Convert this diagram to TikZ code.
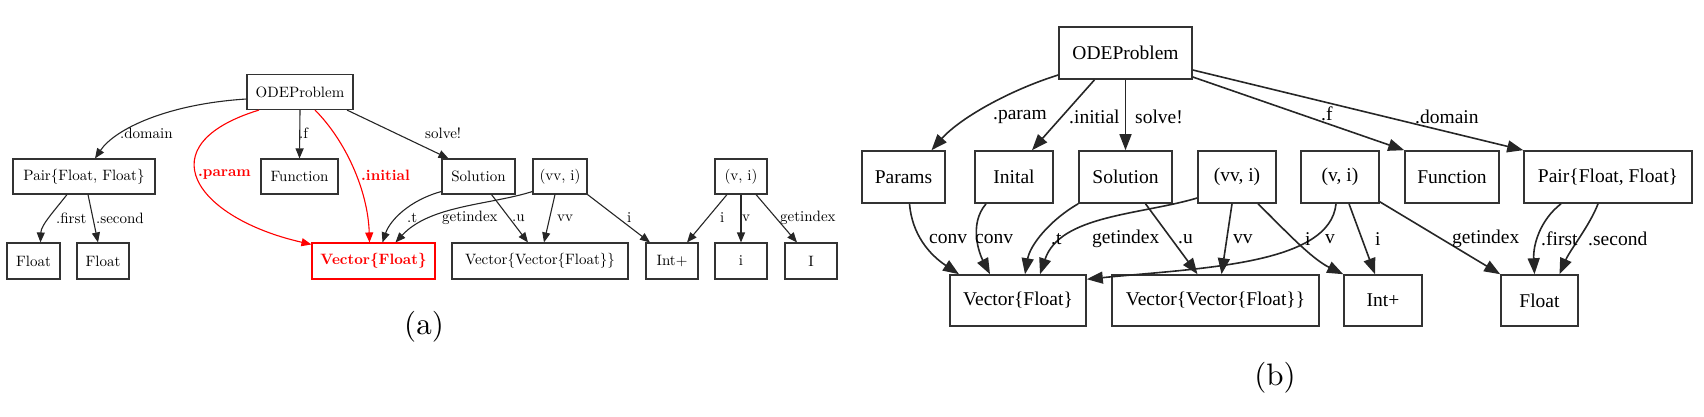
\documentclass[tikz,border=0pt]{standalone}
\usepackage{fontspec}
\newfontfamily\timesf{Liberation Serif}
\newfontfamily\lmten[BoldFont=lmroman10-bold.otf]{lmroman10-regular.otf}
\usetikzlibrary{arrows.meta}
\tikzset{
  abox/.style={draw=black!80, line width=1.1pt, minimum height=35pt, inner sep=0pt, font=\lmten\fontsize{15}{18}\selectfont},
  bbox/.style={draw=black!80, line width=1.6pt, minimum height=52pt, inner sep=0pt, font=\timesf\fontsize{19.5}{23}\selectfont},
  aedge/.style={line width=1.1pt, draw=black!85, -{Triangle[length=10pt,width=8pt]}},
  redge/.style={line width=1.1pt, draw=red, -{Triangle[length=10pt,width=8pt,fill=red]}},
  bedge/.style={line width=1.6pt, draw=black!85, -{Triangle[length=16pt,width=12pt]}},
  alab/.style={anchor=west, inner sep=0pt, font=\lmten\fontsize{15}{18}\selectfont},
  rlab/.style={anchor=west, inner sep=0pt, text=red, font=\lmten\fontsize{15}{18}\selectfont\bfseries},
  blab/.style={anchor=west, inner sep=0pt, font=\timesf\fontsize{19.5}{23}\selectfont},
  caption/.style={inner sep=0pt, font=\lmten\fontsize{31}{36}\selectfont}
}
\begin{document}
\begin{tikzpicture}[x=1pt,y=-1pt]
\path[use as bounding box] (0,0) rectangle (1704,416);
% ---------------- (a) ----------------
\node[abox, minimum width=106pt] (aODE) at (300,92) {ODEProblem};
\node[abox, minimum width=142pt] (aPair) at (84,176.5) {Pair\{Float, Float\}};
\node[abox, minimum width=77pt] (aFun) at (299.5,176.5) {Function};
\node[abox, minimum width=73pt] (aSol) at (478.5,176.5) {Solution};
\node[abox, minimum width=54pt] (aVVi) at (560,176.5) {(vv, i)};
\node[abox, minimum width=52pt] (aVi) at (741,176.5) {(v, i)};
\node[abox, minimum width=53pt, minimum height=36pt] (aF1) at (33.5,261) {Float};
\node[abox, minimum width=52pt, minimum height=36pt] (aF2) at (103,261) {Float};
\node[abox, minimum width=123pt, minimum height=36pt, draw=red, text=red, font=\lmten\fontsize{15}{18}\selectfont\bfseries] (aVF) at (373.5,261) {Vector\{Float\}};
\node[abox, minimum width=176pt, minimum height=36pt] (aVVF) at (540,261) {Vector\{Vector\{Float\}\}};
\node[abox, minimum width=52pt, minimum height=36pt] (aInt) at (672,261) {Int+};
\node[abox, minimum width=52pt, minimum height=36pt] (ai) at (741,261) {i};
\node[abox, minimum width=52pt, minimum height=36pt] (aI) at (811,261) {I};

\draw[aedge] ([yshift=-7pt]aODE.west) .. controls (167,104) and (115,129) .. ([xshift=11pt]aPair.north);
\draw[redge] ([xshift=-41pt]aODE.south) .. controls (145,145) and (195,218) .. ([yshift=-2pt]aVF.north west);
\draw[aedge] (aODE.south) -- (aFun.north);
\draw[redge] ([xshift=15pt]aODE.south) .. controls (345,140) and (368,190) .. ([xshift=-4pt]aVF.north);
\draw[aedge] ([xshift=47pt]aODE.south) -- ([xshift=-30pt]aSol.north);
\draw[aedge] ([xshift=-17pt]aPair.south) .. controls (55,210) and (41,225) .. ([xshift=7pt]aF1.north);
\draw[aedge] ([xshift=4pt]aPair.south) -- ([xshift=-5pt]aF2.north);
\draw[aedge] ([yshift=-15pt]aSol.west) .. controls (410,200) and (390,220) .. ([xshift=9pt]aVF.north);
\draw[aedge] ([yshift=-15pt]aVVi.west) .. controls (490,205) and (430,205) .. ([xshift=22pt]aVF.north);
\draw[aedge] ([xshift=13pt]aSol.south) -- ([xshift=-12pt]aVVF.north);
\draw[aedge] ([xshift=-5pt]aVVi.south) -- ([xshift=4pt]aVVF.north);
\draw[aedge] (aVVi.south east) -- ([xshift=-22pt]aInt.north);
\draw[aedge] ([xshift=-14pt]aVi.south) -- ([xshift=15pt]aInt.north);
\draw[aedge] (aVi.south) -- (ai.north);
\draw[aedge] ([xshift=15pt]aVi.south) -- ([xshift=-14pt]aI.north);

\node[alab] (la1) at (120,133) {.domain};
\node[rlab] (la2) at (198,175) {.param};
\node[alab] (la3) at (299,133) {.f};
\node[rlab] (la4) at (361,175) {.initial};
\node[alab] (la5) at (425,133) {solve!};
\node[alab] (la6) at (56,218) {.first};
\node[alab] (la7) at (96,218) {.second};
\node[alab] (la8) at (407,218) {.t};
\node[alab] (la9) at (442,218) {getindex};
\node[alab] (la10) at (512,218) {.u};
\node[alab] (la11) at (557,218) {vv};
\node[alab] (la12) at (627,218) {i};
\node[alab] (la13) at (720,218) {i};
\node[alab] (la14) at (742,218) {v};
\node[alab] (la15) at (780,218) {getindex};
\node[caption] (capa) at (424,327) {(a)};

% ---------------- (b) ----------------
\node[bbox, minimum width=133pt] (bODE) at (1125.5,53) {ODEProblem};
\node[bbox, minimum width=83pt] (bPar) at (903.5,177) {Params};
\node[bbox, minimum width=78pt] (bIni) at (1014,177) {Inital};
\node[bbox, minimum width=93pt] (bSol) at (1125.5,177) {Solution};
\node[bbox, minimum width=78pt] (bVVi) at (1237,177) {(vv, i)};
\node[bbox, minimum width=78pt] (bVi) at (1340,177) {(v, i)};
\node[bbox, minimum width=94pt] (bFun) at (1452,177) {Function};
\node[bbox, minimum width=168pt] (bPair) at (1608,177) {Pair\{Float, Float\}};
\node[bbox, minimum width=136pt, minimum height=51pt] (bVF) at (1018,300.5) {Vector\{Float\}};
\node[bbox, minimum width=207pt, minimum height=51pt] (bVVF) at (1215.5,300.5) {Vector\{Vector\{Float\}\}};
\node[bbox, minimum width=78pt, minimum height=51pt] (bInt) at (1383,300.5) {Int+};
\node[bbox, minimum width=77pt, minimum height=51pt] (bFl) at (1539.5,300.5) {Float};

\draw[bedge] ([yshift=-22pt]bODE.west) .. controls (1010,90) and (960,118) .. ([xshift=28pt]bPar.north);
\draw[bedge] ([xshift=-31pt]bODE.south) -- ([xshift=18pt]bIni.north);
\draw[bedge] (bODE.south) -- (bSol.north);
\draw[bedge] ([yshift=-24pt]bODE.east) -- (bFun.north west);
\draw[bedge] ([yshift=-17pt]bODE.east) -- (bPair.north west);
\draw[bedge] ([xshift=6pt]bPar.south) .. controls (912,235) and (930,255) .. ([xshift=-59pt]bVF.north);
\draw[bedge] ([xshift=-28pt]bIni.south) .. controls (968,225) and (980,255) .. ([xshift=-28pt]bVF.north);
\draw[bedge] (bSol.south west) .. controls (1050,220) and (1030,245) .. ([xshift=7pt]bVF.north);
\draw[bedge] ([yshift=-21pt]bVVi.west) .. controls (1140,215) and (1060,215) .. ([xshift=22pt]bVF.north);
\draw[bedge] ([xshift=20pt]bSol.south) -- ([xshift=-18pt]bVVF.north);
\draw[bedge] ([xshift=-5pt]bVVi.south) -- ([xshift=6pt]bVVF.north);
\draw[bedge] ([xshift=21pt]bVVi.south) .. controls (1280,225) and (1310,258) .. (bInt.north west);
\draw[bedge] ([xshift=-4pt]bVi.south) .. controls (1330,265) and (1200,268) .. ([yshift=-5pt]bVF.north east);
\draw[bedge] ([xshift=9pt]bVi.south) -- ([xshift=-8pt]bInt.north);
\draw[bedge] ([yshift=2pt]bVi.south east) -- (bFl.north west);
\draw[bedge] ([xshift=-47pt]bPair.south) .. controls (1540,220) and (1533,245) .. ([xshift=-5pt]bFl.north);
\draw[bedge] ([xshift=-10pt]bPair.south) .. controls (1590,225) and (1570,250) .. ([xshift=20pt]bFl.north);

\node[blab] (lb1) at (993,117) {.param};
\node[blab] (lb2) at (1069,117) {.initial};
\node[blab] (lb3) at (1135,117) {solve!};
\node[blab] (lb4) at (1321,114) {.f};
\node[blab] (lb5) at (1415,117) {.domain};
\node[blab] (lb6) at (929,239) {conv};
\node[blab] (lb7) at (975,239) {conv};
\node[blab] (lb8) at (1051,239) {.t};
\node[blab] (lb9) at (1092,239) {getindex};
\node[blab] (lb10) at (1178,239) {.u};
\node[blab] (lb11) at (1233,239) {vv};
\node[blab] (lb12) at (1305,239) {i};
\node[blab] (lb13) at (1325,239) {v};
\node[blab] (lb14) at (1375,239) {i};
\node[blab] (lb15) at (1452,239) {getindex};
\node[blab] (lb16) at (1541,239) {.first};
\node[blab] (lb17) at (1588,239) {.second};
\node[caption] (capb) at (1275,378) {(b)};
\end{tikzpicture}
\end{document}
